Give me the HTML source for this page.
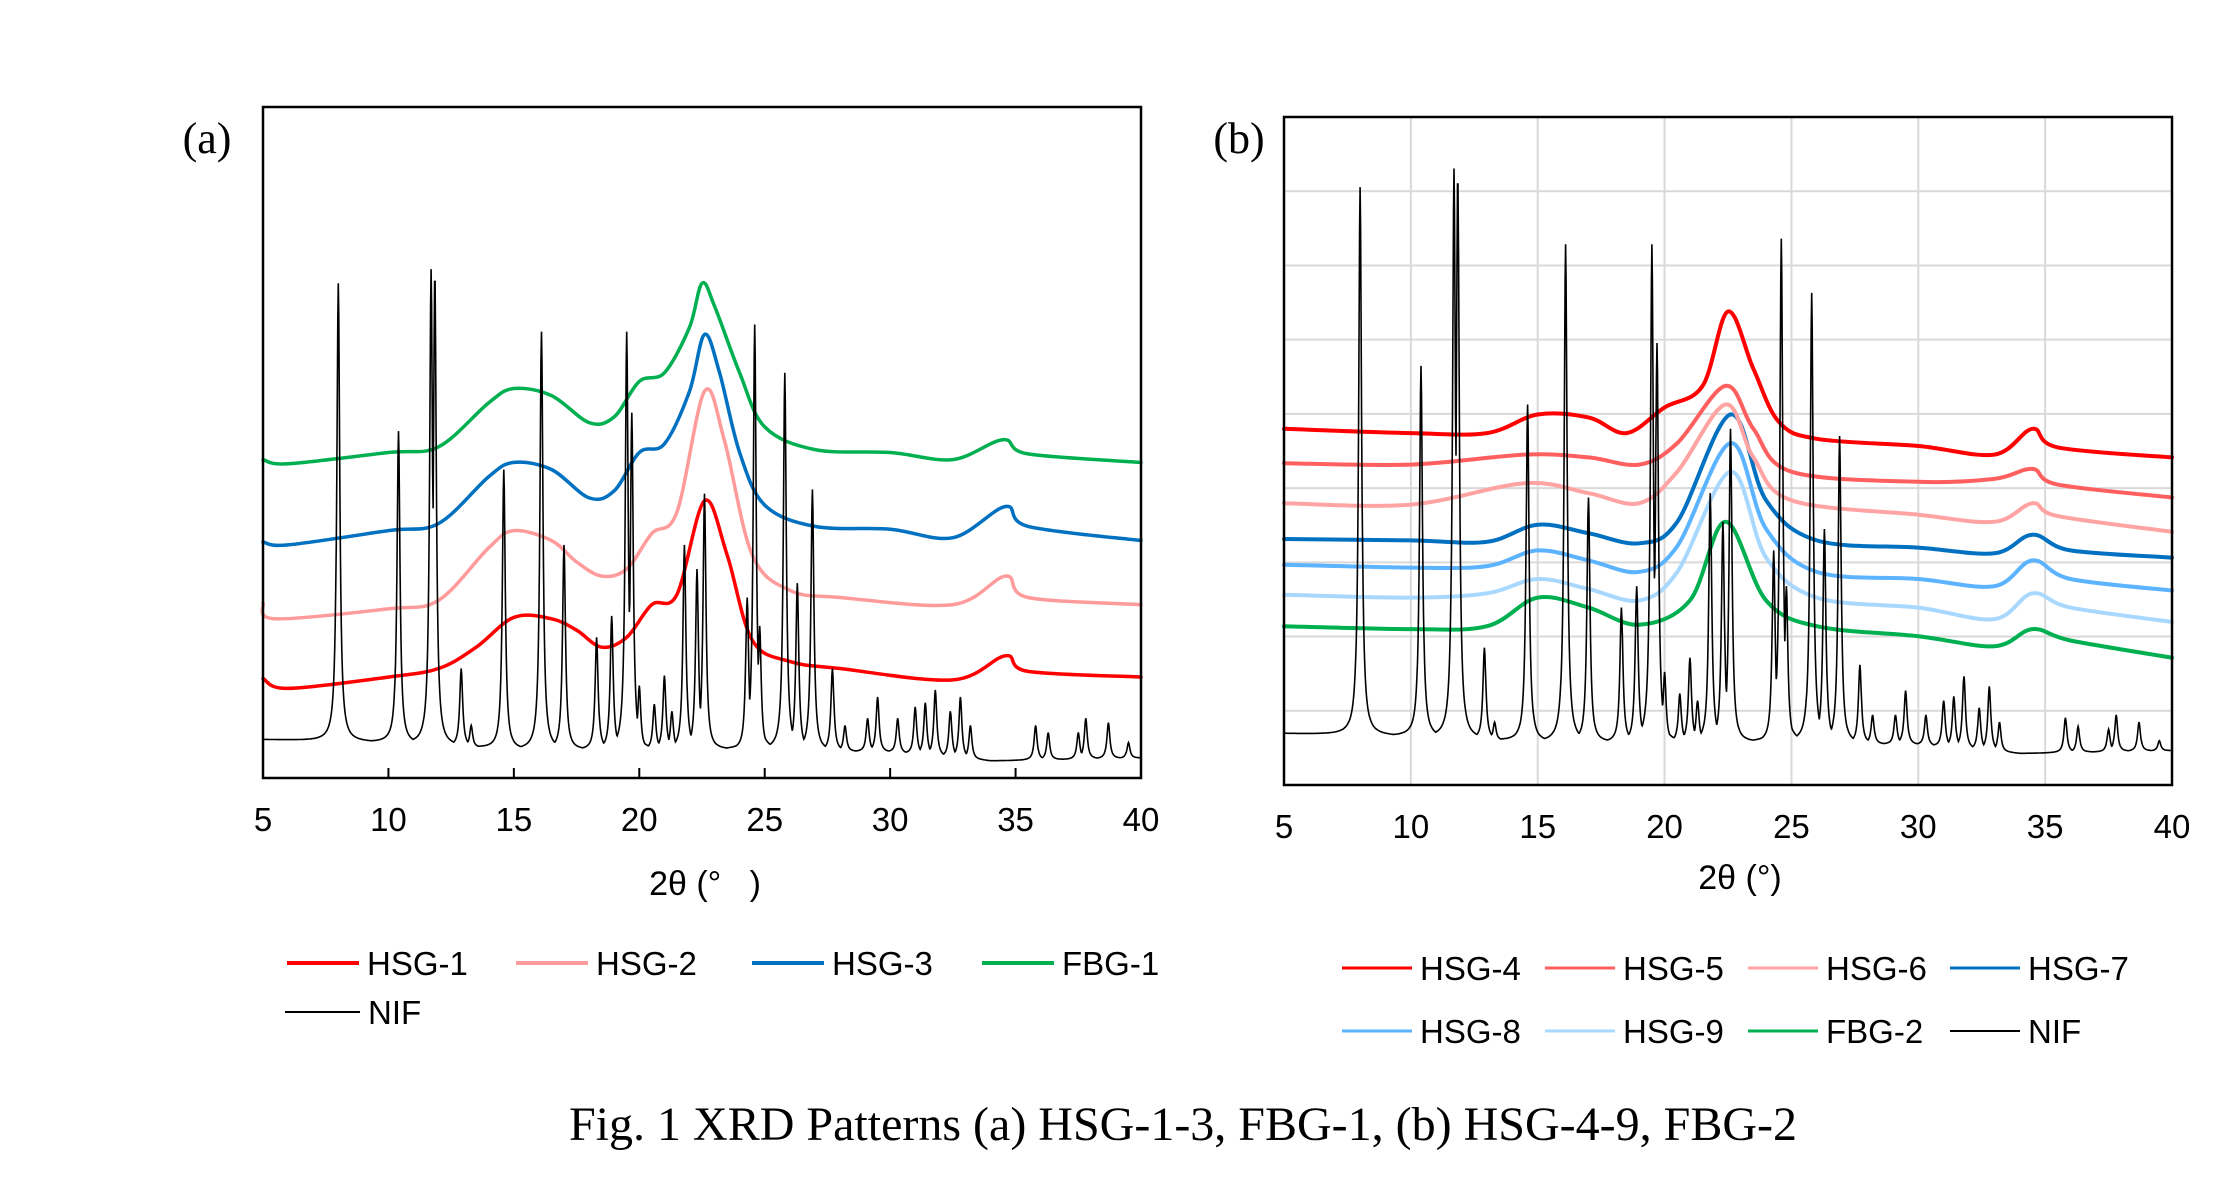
<!DOCTYPE html>
<html><head><meta charset="utf-8"><style>
html,body{margin:0;padding:0;background:#fff;}
svg{display:block;}
text{font-family:"Liberation Sans",sans-serif;fill:#000;}
.serif{font-family:"Liberation Serif",serif;}
</style></head>
<body>
<svg id="fig" width="2231" height="1189" viewBox="0 0 2231 1189" xmlns="http://www.w3.org/2000/svg">
<rect width="2231" height="1189" fill="#fff"/>
<g id="pa"></g>
<g id="pb"></g>
<text class="serif" x="207" y="153" font-size="44" text-anchor="middle">(a)</text>
<text class="serif" x="1239" y="153" font-size="44" text-anchor="middle">(b)</text>
<text x="705" y="895" font-size="34" text-anchor="middle">2θ (°&#160;&#160;&#160;)</text>
<text x="1740" y="889" font-size="34" text-anchor="middle">2θ (°)</text>
<text class="serif" x="1183" y="1140" font-size="48" text-anchor="middle">Fig. 1 XRD Patterns (a) HSG-1-3, FBG-1, (b) HSG-4-9, FBG-2</text>
</svg>
<script>
// ---------- shared x tick labels ----------
const xTicks = [5,10,15,20,25,30,35,40];
// NIF peak positions (2θ)
const nifPeakPos = [8.0,10.4,11.7,11.85,12.9,13.3,14.6,16.1,17.0,18.3,18.9,19.5,19.7,20.0,20.6,21.0,21.3,21.8,22.3,22.6,24.3,24.6,24.8,25.8,26.3,26.9,27.7,28.2,29.1,29.5,30.3,31.0,31.4,31.8,32.4,32.8,33.2,35.8,36.3,37.5,37.8,38.7,39.5];
const nifBaseX = [5,10,15,20,25,30,34,40];

// ---------- panel (a) data ----------
const aNifPeakTop = [348,244,358,356,77,37,217,314,164,99,114,314,257,65,52,72,47,164,147,200,127,319,107,285,137,203,77,37,42,57,42,50,53,62,47,57,37,37,32,32,42,39,25];
const aNifBase = [27,25,20,20,20,18,12,14];
const aFbg1X = [5,6,10,12,14,15,16.5,18,19,20,21,22,22.5,23,24,25,27,30,32.5,34.5,35.5,40];
const aFbg1Y = [224,221,229,233,264,274,269,250,254,279,285,317,348,332,285,247,231,229,224,238,228,222];
const aHsg3X = [5,6,10,12,14,15,16.5,18,19,20,21,22,22.6,23.2,24,25,27,30,32.5,34.6,35.5,40];
const aHsg3Y = [166,164,174,179,212,222,217,197,202,229,235,272,312,285,229,192,177,175,169,191,177,167];
const aHsg2X = [5,5.5,10,12,14,15,16.5,17.5,18.5,19.5,20.5,21.5,22.6,23.4,24.5,26,28,32.5,34.6,35.5,40];
const aHsg2Y = [123,112,119,125,162,174,167,152,142,147,172,187,272,237,157,132,127,122,142,127,122];
const aHsg1X = [5,6,10,12,13.5,15,16.5,17.5,18.5,19.5,20.5,21.5,22.6,23.5,24.5,26,28,32.5,34.6,35.5,40];
const aHsg1Y = [70,63,71,77,92,113,112,104,92,99,122,129,195,157,97,82,77,69,86,75,71];

// ---------- panel (b) data ----------
const bNifPeakTop = [418,293,431,428,96,44,266,378,201,124,139,378,309,79,64,89,59,204,184,249,164,382,139,344,179,244,84,49,49,66,49,59,62,76,54,69,44,47,41,39,49,44,31];
const bNifBase = [36,34,30,30,30,28,22,24];
const bHsg4X = [5,10,13,15,17,18.5,20,21.5,22.5,23.5,24.5,26,30,33,34.5,35.5,40];
const bHsg4Y = [249,246,246,259,257,246,264,279,331,291,254,242,237,231,249,236,229];
const bHsg5X = [5,10,14.5,17,19,20.5,22.4,23.5,25,30,33,34.5,35.5,40];
const bHsg5Y = [225,224,231,229,224,239,279,249,219,212,214,221,210,201];
const bHsg6X = [5,10,14.5,17,19,20.5,22.4,23.5,25,30,33,34.5,35.5,40];
const bHsg6Y = [197,196,211,204,197,219,266,229,199,189,184,197,188,177];
const bSeriesX = [5,10,13,15,17,19,20.5,22.6,24,26,30,33,34.5,36,40];
const bHsg7Y = [172,171,170,182,176,169,184,259,199,171,166,162,175,164,159];
const bHsg8Y = [154,152,153,164,157,149,167,239,179,149,144,139,157,144,136];
const bHsg9Y = [133,131,134,144,137,129,149,219,159,131,124,116,134,124,114];
const bFbg2X = [5,10,13,15,17,19,21,22.4,24,26,30,33,34.5,36,40];
const bFbg2Y = [111,109,111,131,124,112,129,184,129,111,104,97,109,101,89];

const NS = "http://www.w3.org/2000/svg";
function mk(tag, attrs, parent){const e=document.createElementNS(NS,tag);for(const k in attrs)e.setAttribute(k,attrs[k]);parent.appendChild(e);return e;}

function interp(xs, ys, x){
  if(x<=xs[0])return ys[0];
  for(let i=1;i<xs.length;i++){if(x<=xs[i]){const t=(x-xs[i-1])/(xs[i]-xs[i-1]);return ys[i-1]+t*(ys[i]-ys[i-1]);}}
  return ys[ys.length-1];
}
function smoothPath(pts){
  let d="M"+pts[0][0].toFixed(1)+","+pts[0][1].toFixed(1);
  for(let i=0;i<pts.length-1;i++){
    const p0=pts[i-1]||pts[i],p1=pts[i],p2=pts[i+1],p3=pts[i+2]||p2;
    const c1=[p1[0]+(p2[0]-p0[0])/6,p1[1]+(p2[1]-p0[1])/6];
    const c2=[p2[0]-(p3[0]-p1[0])/6,p2[1]-(p3[1]-p1[1])/6];
    d+="C"+c1[0].toFixed(1)+","+c1[1].toFixed(1)+" "+c2[0].toFixed(1)+","+c2[1].toFixed(1)+" "+p2[0].toFixed(1)+","+p2[1].toFixed(1);
  }
  return d;
}
function nifPath(xScale,yScale,peakTop,base){
  let d="";const w=0.07;
  for(let x=5;x<=40.0001;x+=0.02){
    const b=interp(nifBaseX,base,x);let v=b;
    for(let i=0;i<nifPeakPos.length;i++){const u=(x-nifPeakPos[i])/w;const pv=b+(peakTop[i]-b)/(1+u*u);if(pv>v)v=pv;}
    d+=(d?"L":"M")+xScale(x).toFixed(1)+","+yScale(v).toFixed(1);
  }
  return d;
}

function panel(g, L, R, T, B, yMax, grid, name){
  const xs = v => L + (v-5)/35*(R-L);
  const ys = v => B - v/yMax*(B-T);
  if(grid){
    for(let i=1;i<9;i++){const y=B-i*(B-T)/9;const l=mk("line",{x1:L,x2:R,y1:y,y2:y,stroke:"#d9d9d9","stroke-width":2},g);
      
      }
    xTicks.forEach(t=>{if(t>5&&t<40){const l=mk("line",{x1:xs(t),x2:xs(t),y1:T,y2:B,stroke:"#d9d9d9","stroke-width":2},g);
      
      }});
  }
  xTicks.forEach(t=>{
    const tx=mk("text",{x:xs(t),y:B+53,"font-size":33,"text-anchor":"middle"},g);tx.textContent=t;
    
    
    if(!grid){const tk=mk("line",{x1:xs(t),x2:xs(t),y1:B,y2:B-10,stroke:"#000","stroke-width":2},g);
      
      }
  });
  return {xs,ys};
}
function series(g,sc,X,Y,color,w,nm){
  const p=mk("path",{d:smoothPath(X.map((x,i)=>[sc.xs(x),sc.ys(Y[i])])),fill:"none",stroke:color,"stroke-width":w,"stroke-linejoin":"round","stroke-linecap":"round"},g);
  
  
}
function frame(g,L,R,T,B,nm){
  const r=mk("rect",{x:L,y:T,width:R-L,height:B-T,fill:"none",stroke:"#000","stroke-width":2.5},g);
  
  
}
function legend(g,x,y,color,w,label,len,nm){
  const l=mk("line",{x1:x,x2:x+len,y1:y,y2:y,stroke:color,"stroke-width":w},g);
  
  
  const t=mk("text",{x:x+len+8,y:y+12,"font-size":33},g);t.textContent=label;
  
  
}

// Panel A
const ga=document.getElementById("pa");
const A=panel(ga,263,1141,107,778,472,false,"panel-a");
series(ga,A,aFbg1X,aFbg1Y,"#00b050",3.5,"fbg-1-line");
series(ga,A,aHsg3X,aHsg3Y,"#0070c0",3.5,"hsg-3-line");
series(ga,A,aHsg2X,aHsg2Y,"#ff9b9b",3.5,"hsg-2-line");
series(ga,A,aHsg1X,aHsg1Y,"#ff0000",3.5,"hsg-1-line");
const na=mk("path",{d:nifPath(A.xs,A.ys,aNifPeakTop,aNifBase),fill:"none",stroke:"#000","stroke-width":1.6},ga);


frame(ga,263,1141,107,778,"panel-a-plot-frame");
legend(ga,287,963,"#ff0000",4,"HSG-1",72,"legend-hsg-1");
legend(ga,516,963,"#ff9b9b",4,"HSG-2",72,"legend-hsg-2");
legend(ga,752,963,"#0070c0",4,"HSG-3",72,"legend-hsg-3");
legend(ga,982,963,"#00b050",4,"FBG-1",72,"legend-fbg-1");
legend(ga,285,1012,"#000",2,"NIF",75,"legend-nif-a");

// Panel B
const gb=document.getElementById("pb");
const Bp=panel(gb,1284,2172,117,785,467,true,"panel-b");
series(gb,Bp,bFbg2X,bFbg2Y,"#00b050",4,"fbg-2-line");
series(gb,Bp,bSeriesX,bHsg9Y,"#a9d8ff",4,"hsg-9-line");
series(gb,Bp,bSeriesX,bHsg8Y,"#5cb3ff",4,"hsg-8-line");
series(gb,Bp,bSeriesX,bHsg7Y,"#0070c0",4,"hsg-7-line");
series(gb,Bp,bHsg6X,bHsg6Y,"#ffa3a3",4,"hsg-6-line");
series(gb,Bp,bHsg5X,bHsg5Y,"#ff5f5f",4,"hsg-5-line");
series(gb,Bp,bHsg4X,bHsg4Y,"#ff0000",4,"hsg-4-line");
const nb=mk("path",{d:nifPath(Bp.xs,Bp.ys,bNifPeakTop,bNifBase),fill:"none",stroke:"#000","stroke-width":1.6},gb);


frame(gb,1284,2172,117,785,"panel-b-plot-frame");
const lx=[1342,1545,1748,1950], ly=[968,1031];
legend(gb,lx[0],ly[0],"#ff0000",3,"HSG-4",70,"legend-hsg-4");
legend(gb,lx[1],ly[0],"#ff5f5f",3,"HSG-5",70,"legend-hsg-5");
legend(gb,lx[2],ly[0],"#ffa3a3",3,"HSG-6",70,"legend-hsg-6");
legend(gb,lx[3],ly[0],"#0070c0",3,"HSG-7",70,"legend-hsg-7");
legend(gb,lx[0],ly[1],"#5cb3ff",3,"HSG-8",70,"legend-hsg-8");
legend(gb,lx[1],ly[1],"#a9d8ff",3,"HSG-9",70,"legend-hsg-9");
legend(gb,lx[2],ly[1],"#00b050",3,"FBG-2",70,"legend-fbg-2");
legend(gb,lx[3],ly[1],"#000",2,"NIF",70,"legend-nif-b");
</script>
</body></html>
